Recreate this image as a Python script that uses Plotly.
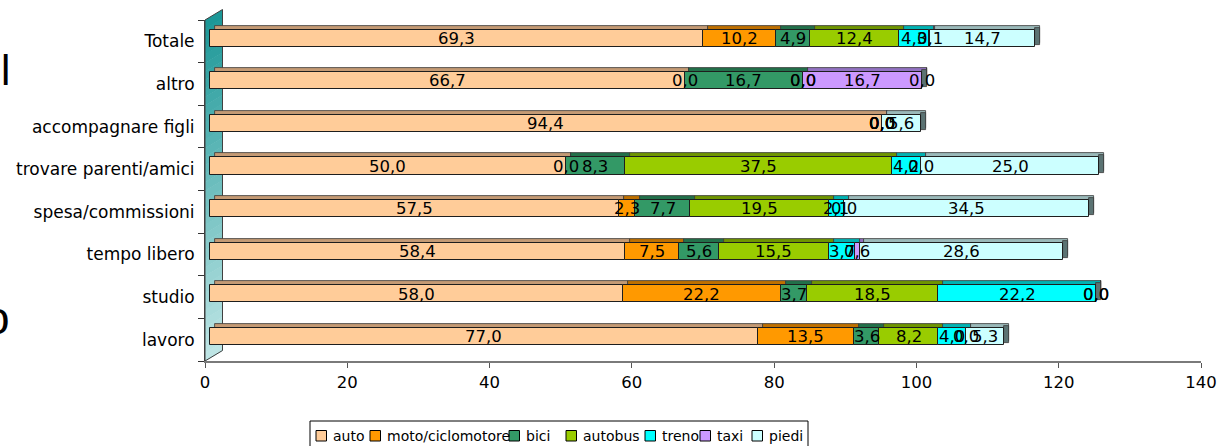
import plotly.graph_objects as go

# ---------------- data ----------------
categories = ["lavoro", "studio", "tempo libero", "spesa/commissioni",
              "trovare parenti/amici", "accompagnare figli", "altro", "Totale"]
series_names = ["auto", "moto/ciclomotore", "bici", "autobus", "treno", "taxi", "piedi"]

auto = [77.0, 58.0, 58.4, 57.5, 50.0, 94.4, 66.7, 69.3]
moto = [13.5, 22.2, 7.5, 2.3, 0.0, 0.0, 0.0, 10.2]
bici = [3.6, 3.7, 5.6, 7.7, 8.3, 0.0, 16.7, 4.9]
autobus = [8.2, 18.5, 15.5, 19.5, 37.5, 0.0, 0.0, 12.4]
treno = [4.0, 22.2, 3.7, 2.1, 4.2, 0.0, 0.0, 4.3]
taxi = [0.0, 0.0, 0.6, 0.0, 0.0, 0.0, 16.7, 0.1]
piedi = [5.3, 0.0, 28.6, 34.5, 25.0, 5.6, 0.0, 14.7]

x_tickvals = [0, 20, 40, 60, 80, 100, 120, 140]

series_values = [auto, moto, bici, autobus, treno, taxi, piedi]

# ---------------- styles ----------------
front_colors = ["#FFCC99", "#FF9900", "#339966", "#99CC00", "#00FFFF", "#CC99FF", "#CCFFFF"]
top_colors = ["#C49A74", "#BF7000", "#22704A", "#6F9500", "#00B3B3", "#9272C2", "#9AB9B9"]
side_color = "#5B7373"
FONT = "DejaVu Sans"

# layout geometry (page pixels)
W_PX, H_PX = 1225, 446
L, R, T, B = 205, 1201, 20, 361          # plot area
PW, PH = R - L, B - T


def px2x(px):
    return (px - L) / PW


def px2y(py):
    return (B - py) / PH


DEPTH = 0.7          # horizontal 3D shift in data units (~5px)
FRONT_OFF, FRONT_W = -0.125, 0.40
BACK_OFF = FRONT_OFF + 0.094

fig = go.Figure()

# cumulative bases
bases = []
run = [0.0] * len(categories)
for vals in series_values:
    bases.append(run[:])
    run = [r + v for r, v in zip(run, vals)]
totals = run

# back (top) faces
for name, vals, base, col in zip(series_names, series_values, bases, top_colors):
    fig.add_trace(go.Bar(
        y=categories, x=vals, base=[b + 2 * DEPTH for b in base], orientation="h",
        offset=BACK_OFF, width=FRONT_W,
        marker=dict(color=col, line=dict(color="#3a3a3a", width=0.8)),
        showlegend=False, hoverinfo="skip"))

# side faces
fig.add_trace(go.Bar(
    y=categories, x=[DEPTH] * len(categories), base=[t + DEPTH for t in totals],
    orientation="h", offset=FRONT_OFF + 0.047, width=FRONT_W,
    marker=dict(color=side_color, line=dict(color="#3a3a3a", width=0.8)),
    showlegend=False, hoverinfo="skip"))

# front faces
for name, vals, base, col in zip(series_names, series_values, bases, front_colors):
    fig.add_trace(go.Bar(
        y=categories, x=vals, base=[b + DEPTH for b in base], orientation="h",
        offset=FRONT_OFF, width=FRONT_W, name=name,
        marker=dict(color=col, line=dict(color="#1e1e1e", width=1)),
        showlegend=False, hoverinfo="skip"))

annotations = []
# value labels
for vals, base in zip(series_values, bases):
    for cat, v, b in zip(categories, vals, base):
        annotations.append(dict(
            x=b + DEPTH + v / 2, y=cat, xref="x", yref="y",
            text=f"{v:.1f}".replace(".", ","), showarrow=False,
            yshift=3, font=dict(family=FONT, size=16.5, color="#000")))

shapes = []
# left 3D wall with vertical gradient
N = 40
top_rgb = (26, 150, 150)
bot_rgb = (192, 230, 230)
wall_top_left, wall_h = 20.0, 341.0
dx_px, dy_px = 17.5, 10.5
for i in range(N):
    f0, f1 = i / N, (i + 1) / N
    y0 = wall_top_left + f0 * wall_h
    y1 = wall_top_left + f1 * wall_h
    f = (i + 0.5) / N
    c = tuple(int(round(a + (b - a) * f)) for a, b in zip(top_rgb, bot_rgb))
    path = (f"M {px2x(L)},{px2y(y0)} L {px2x(L + dx_px)},{px2y(y0 - dy_px)} "
            f"L {px2x(L + dx_px)},{px2y(y1 - dy_px + 0.6)} L {px2x(L)},{px2y(y1 + 0.6)} Z")
    shapes.append(dict(type="path", path=path, xref="paper", yref="paper",
                       fillcolor=f"rgb{c}", line=dict(width=0), layer="below"))
outline = (f"M {px2x(L)},{px2y(wall_top_left)} L {px2x(L + dx_px)},{px2y(wall_top_left - dy_px)} "
           f"L {px2x(L + dx_px)},{px2y(wall_top_left + wall_h - dy_px)} "
           f"L {px2x(L)},{px2y(wall_top_left + wall_h)} Z")
shapes.append(dict(type="path", path=outline, xref="paper", yref="paper",
                   line=dict(color="#404040", width=1), layer="below"))

# custom legend (box, swatches, texts)
legend_box = (310, 421, 808, 449)
legend_x = [316, 370, 509, 566, 645, 700, 752]
sw = 10.5
sw_top = 430.5
shapes.append(dict(type="rect", xref="paper", yref="paper",
                   x0=px2x(legend_box[0]), x1=px2x(legend_box[2]),
                   y0=px2y(legend_box[3]), y1=px2y(legend_box[1]),
                   line=dict(color="#000", width=1), fillcolor="#fff"))
for name, col, lx in zip(series_names, front_colors, legend_x):
    shapes.append(dict(type="rect", xref="paper", yref="paper",
                       x0=px2x(lx), x1=px2x(lx + sw), y0=px2y(sw_top + sw), y1=px2y(sw_top),
                       line=dict(color="#000", width=1), fillcolor=col))
    annotations.append(dict(x=px2x(lx + sw + 4.5), y=px2y(sw_top + sw / 2), xref="paper", yref="paper",
                            xanchor="left", yanchor="middle", text=name, showarrow=False,
                            font=dict(family=FONT, size=14, color="#000")))

# cropped text fragments at the left edge
annotations.append(dict(x=px2x(12), y=px2y(70), xref="paper", yref="paper", xanchor="right",
                        yanchor="middle", text="l", showarrow=False,
                        font=dict(family="Liberation Sans", size=42, color="#000")))
annotations.append(dict(x=px2x(12), y=px2y(318), xref="paper", yref="paper", xanchor="right",
                        yanchor="middle", text="o", showarrow=False,
                        font=dict(family="Liberation Sans", size=46, color="#000")))

fig.update_layout(
    width=W_PX, height=H_PX,
    margin=dict(l=L, r=W_PX - R, t=T, b=H_PX - B, pad=0, autoexpand=False),
    paper_bgcolor="#fff", plot_bgcolor="rgba(0,0,0,0)",
    barmode="overlay", bargap=0,
    showlegend=False,
    annotations=annotations, shapes=shapes,
    font=dict(family=FONT, color="#000"),
    xaxis=dict(range=[0, 140], tickvals=x_tickvals, showgrid=False, zeroline=False,
               showline=True, linecolor="#7a7a7a", linewidth=2,
               ticks="outside", ticklen=5, tickcolor="#555", tickwidth=1,
               tickfont=dict(family=FONT, size=16.5, color="#000"), fixedrange=True),
    yaxis=dict(type="category", categoryorder="array", categoryarray=categories,
               range=[-0.5, len(categories) - 0.5], showgrid=False, zeroline=False,
               showline=True, linecolor="#404040", linewidth=1,
               ticks="outside", tickson="boundaries", ticklen=6, tickcolor="#333",
               ticklabelstandoff=6,
               tickfont=dict(family=FONT, size=17, color="#000"), fixedrange=True),
)

fig.write_html(
    "out.html",
    config={"displayModeBar": False},
    post_script="document.body.style.margin='0';document.body.style.overflow='hidden';",
)
